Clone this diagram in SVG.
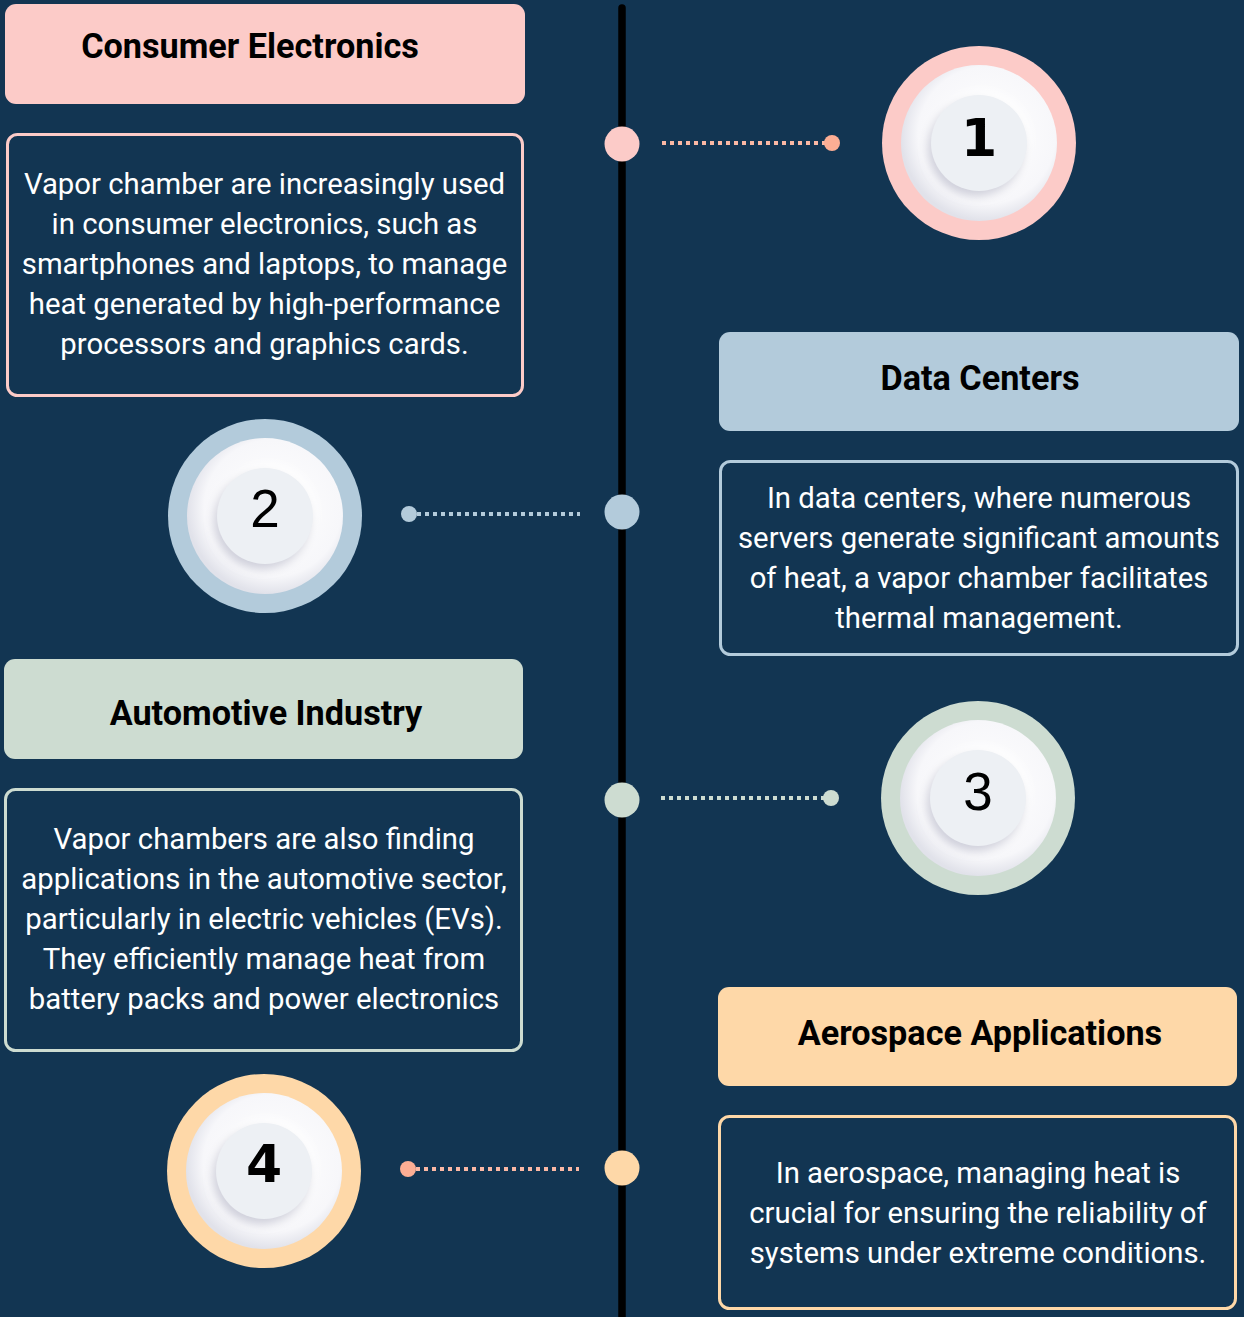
<svg xmlns="http://www.w3.org/2000/svg" width="1244" height="1317" viewBox="0 0 1244 1317">
  <defs>
    <style>
      .title { font-family: Roboto, "Liberation Sans", sans-serif; font-weight: 700; font-size: 34.2px; fill: #000000; text-anchor: middle; }
      .body { font-family: Roboto, "Liberation Sans", sans-serif; font-weight: 400; font-size: 29.3px; fill: #ffffff; text-anchor: middle; }
      .num { font-family: "Liberation Sans", Arial, sans-serif; font-size: 53px; fill: #000000; text-anchor: middle; }
      .num-b { font-family: "DejaVu Sans", sans-serif; font-weight: 700; font-size: 52px; fill: #000000; text-anchor: middle; }
      .desc { fill: none; stroke-width: 3; }
      .dash { stroke-width: 4; stroke-dasharray: 4 4; fill: none; }
      .pink { fill: #fccbc8; }
      .blue { fill: #b3cbdb; }
      .green { fill: #cddcd1; }
      .peach { fill: #fed8a8; }
    </style>
    <radialGradient id="plate" cx="0.55" cy="0.45" r="0.55">
      <stop offset="0" stop-color="#ffffff"/>
      <stop offset="0.8" stop-color="#f7f7fa"/>
      <stop offset="1" stop-color="#e1e2ea"/>
    </radialGradient>
    <filter id="disc" x="-40%" y="-40%" width="180%" height="180%">
      <feDropShadow dx="-3" dy="5" stdDeviation="5" flood-color="#a9abc0" flood-opacity="0.6" result="s1"/>
      <feDropShadow dx="3" dy="-4" stdDeviation="4" flood-color="#ffffff" flood-opacity="1"/>
    </filter>
    <g id="badge">
      <circle r="78" fill="url(#plate)"/>
      <circle r="48" fill="#edf0f4" filter="url(#disc)"/>
    </g>
  </defs>

  <rect width="1244" height="1317" fill="#123552"/>

  <!-- timeline spine, dotted leaders and stop markers -->
  <g id="connectors">
    <line x1="622" y1="8" x2="622" y2="1330" stroke="#000000" stroke-width="7.5" stroke-linecap="round"/>
    <line class="dash" x1="662" y1="143" x2="826" y2="143" stroke="#fbb8a4"/>
    <circle cx="832" cy="143" r="8" fill="#fcae94"/>
    <line class="dash" x1="417" y1="514" x2="580" y2="514" stroke="#b3cbdb"/>
    <circle cx="409" cy="514" r="8" fill="#b3cbdb"/>
    <line class="dash" x1="661" y1="798" x2="826" y2="798" stroke="#cddcd1"/>
    <circle cx="831" cy="798" r="8" fill="#cddcd1"/>
    <line class="dash" x1="416" y1="1169" x2="579" y2="1169" stroke="#fbb8a4"/>
    <circle cx="408" cy="1169" r="8" fill="#fcae94"/>
    <circle class="pink" cx="622" cy="144" r="17.5"/>
    <circle class="blue" cx="622" cy="512" r="17.5"/>
    <circle class="green" cx="622" cy="800" r="17.5"/>
    <circle class="peach" cx="622" cy="1168" r="17.5"/>
  </g>

  <!-- 1: consumer electronics -->
  <g id="consumer-electronics">
    <rect class="pink" x="5" y="4" width="520" height="100" rx="11"/>
    <text class="title" x="250" y="58">Consumer Electronics</text>
    <rect class="desc" x="7.5" y="134.5" width="515" height="261" rx="10" stroke="#fccbc8"/>
    <text class="body" x="264.5" y="194">Vapor chamber are increasingly used</text>
    <text class="body" x="264.5" y="234">in consumer electronics, such as</text>
    <text class="body" x="264.5" y="274">smartphones and laptops, to manage</text>
    <text class="body" x="264.5" y="314">heat generated by high-performance</text>
    <text class="body" x="264.5" y="354">processors and graphics cards.</text>
  </g>
  <g id="badge-1">
    <circle class="pink" cx="979" cy="143" r="97"/>
    <use href="#badge" x="979" y="143"/>
    <text class="num-b" x="979" y="156">1</text>
  </g>

  <!-- 2: data centers -->
  <g id="data-centers">
    <rect class="blue" x="719" y="332" width="520" height="99" rx="11"/>
    <text class="title" x="980" y="390">Data Centers</text>
    <rect class="desc" x="720.5" y="461.5" width="517" height="193" rx="10" stroke="#b3cbdb"/>
    <text class="body" x="979" y="508">In data centers, where numerous</text>
    <text class="body" x="979" y="548">servers generate significant amounts</text>
    <text class="body" x="979" y="588">of heat, a vapor chamber facilitates</text>
    <text class="body" x="979" y="628">thermal management.</text>
  </g>
  <g id="badge-2">
    <circle class="blue" cx="265" cy="516" r="97"/>
    <use href="#badge" x="265" y="516"/>
    <text class="num" x="265" y="527">2</text>
  </g>

  <!-- 3: automotive industry -->
  <g id="automotive-industry">
    <rect class="green" x="4" y="659" width="519" height="100" rx="11"/>
    <text class="title" x="266" y="725">Automotive Industry</text>
    <rect class="desc" x="5.5" y="789.5" width="516" height="261" rx="10" stroke="#cddcd1"/>
    <text class="body" x="264" y="849">Vapor chambers are also finding</text>
    <text class="body" x="264" y="889">applications in the automotive sector,</text>
    <text class="body" x="264" y="929">particularly in electric vehicles (EVs).</text>
    <text class="body" x="264" y="969">They efficiently manage heat from</text>
    <text class="body" x="264" y="1009">battery packs and power electronics</text>
  </g>
  <g id="badge-3">
    <circle class="green" cx="978" cy="798" r="97"/>
    <use href="#badge" x="978" y="798"/>
    <text class="num" x="978" y="810">3</text>
  </g>

  <!-- 4: aerospace applications -->
  <g id="aerospace-applications">
    <rect class="peach" x="718" y="987" width="519" height="99" rx="11"/>
    <text class="title" x="980" y="1045">Aerospace Applications</text>
    <rect class="desc" x="719.5" y="1116.5" width="516" height="192" rx="10" stroke="#fed8a8"/>
    <text class="body" x="978" y="1183">In aerospace, managing heat is</text>
    <text class="body" x="978" y="1223">crucial for ensuring the reliability of</text>
    <text class="body" x="978" y="1263">systems under extreme conditions.</text>
  </g>
  <g id="badge-4">
    <circle class="peach" cx="264" cy="1171" r="97"/>
    <use href="#badge" x="264" y="1171"/>
    <text class="num-b" x="264" y="1182">4</text>
  </g>
</svg>
